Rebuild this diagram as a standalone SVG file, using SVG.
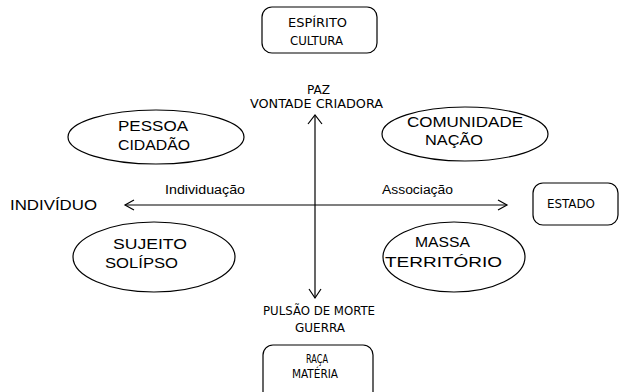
<svg xmlns="http://www.w3.org/2000/svg" width="619" height="392" viewBox="0 0 619 392">
<style>
.bg{fill:#fff}
.shape{fill:#fff;stroke:#000;stroke-width:1.2}
.line{fill:none;stroke:#000;stroke-width:1.2}
.cap{font-family:"DejaVu Sans","Liberation Sans",sans-serif;font-stretch:condensed;font-size:13px;fill:#000;text-anchor:start}
.sans{font-family:"Liberation Sans",Arial,sans-serif;font-size:14px;fill:#000;text-anchor:start}
.lbl{font-family:"Liberation Sans",Arial,sans-serif;font-size:12px;fill:#000}
</style>
<rect class="bg" x="0" y="0" width="619" height="392"/>
<g id="connectors">
<line class="line" x1="125" y1="205" x2="507" y2="205"/>
<line class="line" x1="315" y1="115" x2="315" y2="298"/>
<polyline class="line" points="134,200 125,205 134,210"/>
<polyline class="line" points="498,200 507,205 498,210"/>
<polyline class="line" points="308,124 315,115 322,124"/>
<polyline class="line" points="309,289 315,298 321,289"/>
<text class="lbl" x="165" y="194" textLength="80" lengthAdjust="spacingAndGlyphs">Individuação</text>
<text class="lbl" x="382" y="194" textLength="71" lengthAdjust="spacingAndGlyphs">Associação</text>
</g>
<g id="espirito">
<rect class="shape" x="262" y="7" width="115" height="46" rx="10"/>
<text class="cap" x="288" y="27" textLength="59" lengthAdjust="spacingAndGlyphs">ESPÍRITO</text>
<text class="cap" x="290" y="45" textLength="53" lengthAdjust="spacingAndGlyphs">CULTURA</text>
</g>
<g id="paz">
<text class="cap" x="307" y="94" textLength="23" lengthAdjust="spacingAndGlyphs">PAZ</text>
<text class="cap" x="250" y="108" textLength="133" lengthAdjust="spacingAndGlyphs">VONTADE CRIADORA</text>
</g>
<g id="pessoa">
<ellipse class="shape" cx="156" cy="137" rx="88" ry="27"/>
<text class="sans" x="118" y="131" textLength="70" lengthAdjust="spacingAndGlyphs">PESSOA</text>
<text class="sans" x="118" y="150" textLength="72" lengthAdjust="spacingAndGlyphs">CIDADÃO</text>
</g>
<g id="comunidade">
<ellipse class="shape" cx="465" cy="134" rx="83" ry="27"/>
<text class="sans" x="407" y="127" textLength="116" lengthAdjust="spacingAndGlyphs">COMUNIDADE</text>
<text class="sans" x="425" y="145" textLength="58" lengthAdjust="spacingAndGlyphs">NAÇÃO</text>
</g>
<g id="individuo">
<text class="sans" x="10" y="210" font-size="15" textLength="87" lengthAdjust="spacingAndGlyphs">INDIVÍDUO</text>
</g>
<g id="estado">
<rect class="shape" x="533" y="183" width="85" height="42" rx="10"/>
<text class="cap" x="547" y="208" textLength="48" lengthAdjust="spacingAndGlyphs">ESTADO</text>
</g>
<g id="sujeito">
<ellipse class="shape" cx="154" cy="257" rx="81" ry="35"/>
<text class="sans" x="113" y="249" textLength="74" lengthAdjust="spacingAndGlyphs">SUJEITO</text>
<text class="sans" x="105" y="268" textLength="73" lengthAdjust="spacingAndGlyphs">SOLÍPSO</text>
</g>
<g id="massa">
<ellipse class="shape" cx="454" cy="257" rx="71" ry="35"/>
<text class="sans" x="415" y="247" textLength="55" lengthAdjust="spacingAndGlyphs">MASSA</text>
<text class="sans" x="385" y="267" textLength="117" lengthAdjust="spacingAndGlyphs">TERRITÓRIO</text>
</g>
<g id="pulsao">
<text class="cap" x="263" y="315" textLength="112" lengthAdjust="spacingAndGlyphs">PULSÃO DE MORTE</text>
<text class="cap" x="295" y="332" textLength="50" lengthAdjust="spacingAndGlyphs">GUERRA</text>
</g>
<g id="raca">
<rect class="shape" x="263" y="345" width="110" height="60" rx="10"/>
<text class="cap" x="306" y="363" textLength="22" lengthAdjust="spacingAndGlyphs">RAÇA</text>
<text class="cap" x="292" y="378" textLength="46" lengthAdjust="spacingAndGlyphs">MATÉRIA</text>
</g>
</svg>
